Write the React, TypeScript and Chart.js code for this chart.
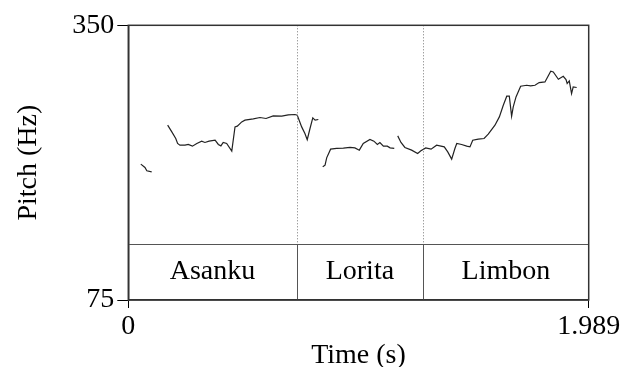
import React, { useEffect, useRef } from "react";
import { Chart, registerables } from "chart.js";

Chart.register(...registerables);

// Axis ranges
const timeRange = [0, 1.989];
const pitchRange = [75, 350];
const xTickValues = [0, 1.989];
const xTickLabels = ["0", "1.989"];
const yTickValues = [75, 350];
const yTickLabels = ["75", "350"];

// TextGrid tier
const boundaries = [0.727, 1.274];
const words = ["Asanku", "Lorita", "Limbon"];

// Pitch segments (time s, pitch Hz)
const seg1Time = [0.054, 0.072, 0.08, 0.101];
const seg1Hz = [211, 207.7, 204.3, 203.3];

const seg2Time = [
  0.17, 0.188, 0.205, 0.213, 0.223, 0.245, 0.259, 0.277, 0.296, 0.317, 0.331, 0.349,
  0.375, 0.389, 0.4, 0.41, 0.425, 0.447, 0.461, 0.471, 0.49, 0.504, 0.54, 0.569,
  0.595, 0.626, 0.663, 0.691, 0.72, 0.73, 0.749, 0.763, 0.773, 0.785, 0.797, 0.807, 0.821,
];
const seg2Hz = [
  250, 243.3, 236.7, 231.7, 230, 230, 230.7, 229, 231.7, 234, 232.7, 234,
  235, 230.7, 229.3, 232.7, 231.7, 224, 248.3, 249, 253.3, 255, 256.3, 257.7,
  256.7, 259.3, 259, 260.3, 260.7, 260, 248.3, 241.7, 235.5, 246.7, 257.3, 255, 255.7,
];

const seg3Time = [
  0.84, 0.85, 0.857, 0.874, 0.9, 0.929, 0.958, 0.979, 0.998, 1.015, 1.044, 1.061,
  1.076, 1.087, 1.102, 1.119, 1.131, 1.149,
];
const seg3Hz = [
  208.3, 210, 217.3, 226, 226.7, 227, 227.7, 227.3, 225, 231.7, 235.7, 234,
  230.7, 232.7, 229, 229, 227.3, 226.7,
];

const seg4Time = [
  1.164, 1.178, 1.195, 1.224, 1.25, 1.264, 1.285, 1.308, 1.332, 1.365, 1.38, 1.397,
  1.411, 1.419, 1.44, 1.462, 1.476, 1.488, 1.512, 1.537, 1.555, 1.584, 1.603, 1.62,
  1.635, 1.646, 1.656, 1.663, 1.675, 1.695, 1.721, 1.738, 1.757, 1.775, 1.8, 1.825,
  1.836, 1.858, 1.879, 1.891, 1.896, 1.905, 1.915, 1.922, 1.937,
];
const seg4Hz = [
  239.3, 232.7, 227.7, 225, 221.7, 224.3, 227.3, 226, 230, 228.3, 223.3, 216,
  226.7, 231.7, 230.7, 229, 228.3, 235, 236, 236.7, 241, 250, 258.3, 270,
  279, 279, 259, 268.3, 278.3, 289, 290, 289.3, 290, 292.7, 293.3, 304,
  303.3, 296, 299, 295.7, 291.7, 294.3, 281.7, 288.3, 287.7,
];

const FONT = "'Liberation Serif', 'Times New Roman', serif";
const FONT_SIZE = 28;
const TIER_FRACTION = 0.204; // share of plot height used by the tier

function toPoints(t: number[], f: number[]) {
  return t.map((x, i) => ({ x, y: f[i] }));
}

const textGridPlugin = {
  id: "textGrid",
  afterDatasetsDraw(chart: any) {
    const { ctx, chartArea, scales } = chart;
    const { left, right, top, bottom } = chartArea;
    const tierTop = bottom - (bottom - top) * TIER_FRACTION;
    ctx.save();
    // dotted boundaries in pitch area
    ctx.strokeStyle = "#777";
    ctx.lineWidth = 1;
    ctx.setLineDash([1, 2]);
    boundaries.forEach((b) => {
      const x = Math.round(scales.x.getPixelForValue(b)) + 0.5;
      ctx.beginPath();
      ctx.moveTo(x, top);
      ctx.lineTo(x, tierTop);
      ctx.stroke();
    });
    ctx.setLineDash([]);
    // tier lines
    ctx.strokeStyle = "#555";
    ctx.beginPath();
    ctx.moveTo(left, Math.round(tierTop) + 0.5);
    ctx.lineTo(right, Math.round(tierTop) + 0.5);
    boundaries.forEach((b) => {
      const x = Math.round(scales.x.getPixelForValue(b)) + 0.5;
      ctx.moveTo(x, tierTop);
      ctx.lineTo(x, bottom);
    });
    ctx.stroke();
    // words
    const edges = [timeRange[0], ...boundaries, timeRange[1]];
    ctx.fillStyle = "#000";
    ctx.font = `${FONT_SIZE}px ${FONT}`;
    ctx.textAlign = "center";
    ctx.textBaseline = "middle";
    words.forEach((w, i) => {
      const x0 = scales.x.getPixelForValue(edges[i]);
      const x1 = scales.x.getPixelForValue(edges[i + 1]);
      ctx.fillText(w, (x0 + x1) / 2, (tierTop + bottom) / 2);
    });
    // frame
    ctx.strokeStyle = "#333";
    ctx.lineWidth = 1.5;
    ctx.strokeRect(left, top, right - left, bottom - top);
    ctx.restore();
  },
};

export default function App() {
  const ref = useRef<HTMLCanvasElement | null>(null);
  useEffect(() => {
    if (!ref.current) return;
    const mk = (t: number[], f: number[]) => ({
      data: toPoints(t, f),
      showLine: true,
      borderColor: "#222",
      borderWidth: 1.2,
      pointRadius: 0,
      tension: 0,
      fill: false,
    });
    const chart = new Chart(ref.current, {
      type: "scatter",
      data: {
        datasets: [
          mk(seg1Time, seg1Hz),
          mk(seg2Time, seg2Hz),
          mk(seg3Time, seg3Hz),
          mk(seg4Time, seg4Hz),
        ],
      },
      options: {
        animation: false,
        responsive: false,
        maintainAspectRatio: false,
        layout: { padding: { left: 0, top: 25.3, right: 34.3, bottom: 0 } },
        plugins: { legend: { display: false }, tooltip: { enabled: false } },
        scales: {
          x: {
            type: "linear",
            min: timeRange[0],
            max: timeRange[1],
            afterBuildTicks: (axis: any) => {
              axis.ticks = xTickValues.map((v) => ({ value: v }));
            },
            afterFit: (axis: any) => {
              axis.height = 67;
            },
            ticks: {
              autoSkip: false,
              maxRotation: 0,
              padding: 2,
              color: "#000",
              font: { family: FONT, size: FONT_SIZE },
              callback: (v: any) => xTickLabels[xTickValues.indexOf(Number(v))] ?? "",
            },
            grid: {
              display: true,
              drawOnChartArea: false,
              drawTicks: true,
              tickLength: 8,
              tickColor: "#000",
              color: "#000",
            },
            border: { display: true, color: "#333", width: 1.5 },
            title: {
              display: true,
              text: "Time (s)",
              color: "#000",
              font: { family: FONT, size: FONT_SIZE, lineHeight: 0.8 },
              padding: { top: 0, bottom: 0 },
            },
          },
          y: {
            type: "linear",
            min: pitchRange[0],
            max: pitchRange[1],
            afterBuildTicks: (axis: any) => {
              axis.ticks = yTickValues.map((v) => ({ value: v }));
            },
            afterFit: (axis: any) => {
              axis.width = 128.3;
            },
            ticks: {
              autoSkip: false,
              padding: 3,
              color: "#000",
              font: { family: FONT, size: FONT_SIZE },
              callback: (v: any) => yTickLabels[yTickValues.indexOf(Number(v))] ?? "",
            },
            grid: {
              display: true,
              drawOnChartArea: false,
              drawTicks: true,
              tickLength: 11,
              tickColor: "#000",
              color: "#000",
            },
            border: { display: true, color: "#333", width: 1.5 },
            title: {
              display: true,
              text: "Pitch (Hz)",
              color: "#000",
              font: { family: FONT, size: FONT_SIZE },
              padding: { top: 12, bottom: 0 },
            },
          },
        },
      },
      plugins: [textGridPlugin],
    });
    return () => chart.destroy();
  }, []);
  return (
    <div style={{ position: "fixed", left: 0, top: 0, width: 623, height: 367, background: "#fff" }}>
      <canvas ref={ref} width={623} height={367} style={{ width: 623, height: 367 }} />
    </div>
  );
}
